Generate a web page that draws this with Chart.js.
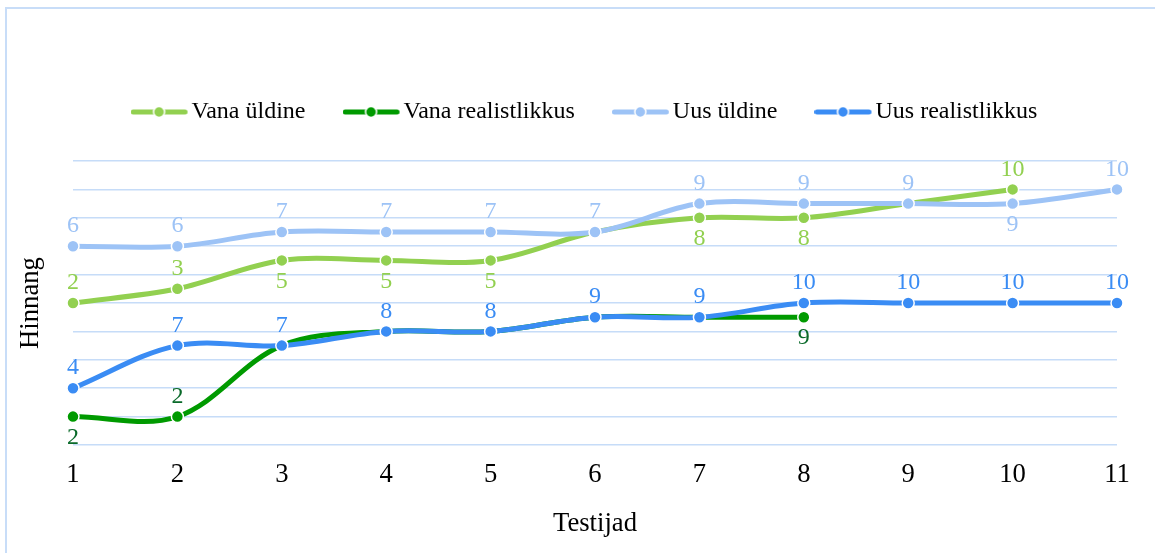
<!DOCTYPE html>
<html>
<head>
<meta charset="utf-8">
<script src="https://cdn.jsdelivr.net/npm/chart.js@4"></script>
<style>
  body { margin: 0; background: #fff; overflow: hidden; }
  #raam { position: absolute; left: 5px; top: 7px; width: 1300px; height: 700px;
          border-left: 2px solid #c8ddf8; border-top: 2px solid #c8ddf8; }
  #joonis { position: absolute; left: 0; top: 0; }
</style>
</head>
<body>
<div id="raam"></div>
<canvas id="joonis" width="1155" height="553"></canvas>
<script>
const testijad = ['1', '2', '3', '4', '5', '6', '7', '8', '9', '10', '11'];

const vanaYldine = [2, 3, 5, 5, 5, 7, 8, 8, 9, 10];
const vanaRealistlikkus = [2, 2, 7, 8, 8, 9, 9, 9];
const uusYldine = [6, 6, 7, 7, 7, 7, 9, 9, 9, 9, 10];
const uusRealistlikkus = [4, 7, 7, 8, 8, 9, 9, 10, 10, 10, 10];

// kas silt on punkti kohal (a) või all (b)
const vanaYldineSildid = ['a', 'a', 'b', 'b', 'b', 'a', 'b', 'b', 'a', 'a'];
const vanaRealSildid = ['b', 'a', 'a', 'a', 'a', 'a', 'a', 'b'];
const uusYldineSildid = ['a', 'a', 'a', 'a', 'a', 'a', 'a', 'a', 'a', 'b', 'a'];
const uusRealSildid = ['a', 'a', 'a', 'a', 'a', 'a', 'a', 'a', 'a', 'a', 'a'];

Chart.defaults.font.family = '"Liberation Serif", "Times New Roman", serif';
Chart.defaults.color = '#000';

function legendiPilt(varv) {
	let c = document.createElement('canvas');
	c.width = 71;
	c.height = 14;
	let g = c.getContext('2d');
	g.strokeStyle = varv;
	g.lineWidth = 5;
	g.lineCap = 'round';
	g.beginPath();
	g.moveTo(2.5, 7);
	g.lineTo(54.5, 7);
	g.stroke();
	g.beginPath();
	g.arc(28.5, 7, 5.5, 0, Math.PI * 2);
	g.fillStyle = varv;
	g.fill();
	g.lineWidth = 1.5;
	g.strokeStyle = '#fff';
	g.stroke();
	return c;
}

function seeria(nimi, andmed, varv, sildiVarv, sildid, telg, jarjekord) {
	return {
		label: nimi,
		data: andmed,
		yAxisID: telg,
		order: jarjekord,
		borderColor: varv,
		backgroundColor: varv,
		borderWidth: 5,
		tension: 0.35,
		pointRadius: 6,
		pointHoverRadius: 6,
		pointBackgroundColor: varv,
		pointBorderColor: '#fff',
		pointBorderWidth: 1.5,
		sildiVarv: sildiVarv,
		sildid: sildid
	};
}

const andmeSildid = {
	id: 'andmeSildid',
	afterDatasetsDraw(chart) {
		let ctx = chart.ctx;
		let koik = [];
		chart.data.datasets.forEach(function (ds, i) {
			let meta = chart.getDatasetMeta(i);
			meta.data.forEach(function (p, j) {
				let v = ds.data[j];
				if (v == null) return;
				let dy = ds.sildid[j] === 'b' ? 21 : -20;
				koik.push({ tekst: String(v), x: p.x, y: p.y + dy, varv: ds.sildiVarv, ds: i });
			});
		});
		ctx.save();
		ctx.font = '24px "Liberation Serif"';
		ctx.textAlign = 'center';
		ctx.textBaseline = 'middle';
		koik.forEach(function (s) {
			// sama silt jääks hilisema seeria sildi alla, siis jätame vahele
			let kaetud = koik.some(function (t) {
				return t.ds > s.ds && t.tekst === s.tekst && Math.abs(t.x - s.x) < 1 && Math.abs(t.y - s.y) < 1;
			});
			if (kaetud) return;
			ctx.fillStyle = s.varv;
			ctx.fillText(s.tekst, s.x, s.y);
		});
		ctx.restore();
	}
};

let canva = document.getElementById('joonis').getContext('2d');

var myChart = new Chart(canva, {
	type: 'line',
	data: {
		labels: testijad,
		datasets: [
			seeria('Vana üldine', vanaYldine, '#92d050', '#92d050', vanaYldineSildid, 'y2', 3),
			seeria('Vana realistlikkus', vanaRealistlikkus, '#009a00', '#0a6a2a', vanaRealSildid, 'y', 2),
			seeria('Uus üldine', uusYldine, '#9dc3f6', '#9dc3f6', uusYldineSildid, 'y2', 1),
			seeria('Uus realistlikkus', uusRealistlikkus, '#3a8cf4', '#3a8cf4', uusRealSildid, 'y', 0)
		]
	},
	plugins: [andmeSildid],
	options: {
		responsive: false,
		animation: false,
		layout: { padding: { top: 41, left: 0, right: 38, bottom: 0 } },
		plugins: {
			tooltip: { enabled: false },
			title: {
				display: true,
				text: '',
				weight: 500,
				font: { size: 10 },
				padding: { top: 15, bottom: 0 }
			},
			legend: {
				fullSize: false,
				labels: {
					usePointStyle: true,
					pointStyleWidth: 27,
					padding: 59,
					font: { size: 24 },
					color: '#000',
					sort: function (a, b) { return a.datasetIndex - b.datasetIndex; },
					generateLabels: function (chart) {
						let items = Chart.defaults.plugins.legend.labels.generateLabels(chart);
						items.forEach(function (it) {
							it.pointStyle = legendiPilt(chart.data.datasets[it.datasetIndex].borderColor);
						});
						return items;
					}
				}
			}
		},
		scales: {
			x: {
				grid: { display: false, drawTicks: false },
				border: { display: false },
				ticks: { padding: 14, font: { size: 26.67 }, color: '#000', maxRotation: 0, autoSkip: false },
				title: { display: true, text: 'Testijad', font: { size: 26.67 }, color: '#000', padding: { top: 0, bottom: 13 } },
				afterFit: function (scale) { scale.height = 108; }
			},
			y: {
				min: 0,
				max: 20,
				ticks: { display: false, stepSize: 2 },
				grid: { color: '#c6dcf8', lineWidth: 1.5, drawTicks: false },
				border: { display: false },
				title: { display: true, text: 'Hinnang', font: { size: 26.67 }, color: '#000', padding: { top: 15, bottom: 0 } },
				afterFit: function (scale) { scale.width = 73; }
			},
			y2: {
				min: -8,
				max: 12,
				display: false
			}
		}
	}
});
</script>
</body>
</html>
